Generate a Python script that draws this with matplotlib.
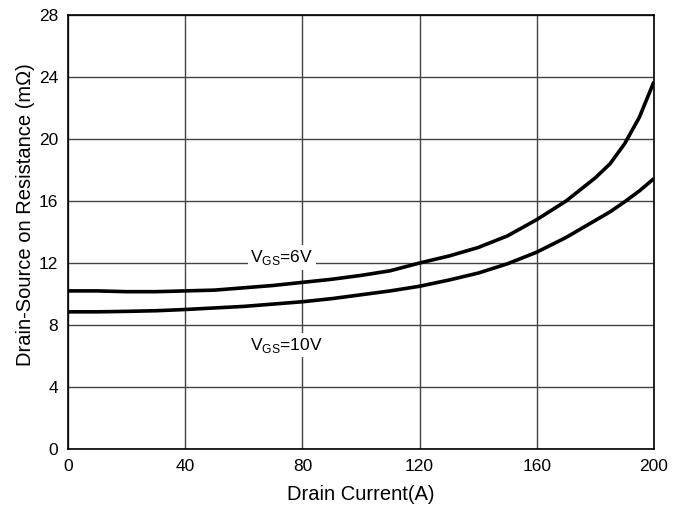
import numpy as np
import matplotlib.pyplot as plt

plt.rcParams['font.family'] = ['Liberation Sans', 'DejaVu Sans']

# drain current (A) and on-resistance (mOhm) read for each gate voltage
i_d = [0, 10, 20, 30, 40, 50, 60, 70, 80, 90, 100, 110, 120, 130, 140, 150,
       160, 170, 180, 185, 190, 195, 200]
r_6v = [10.2, 10.2, 10.15, 10.15, 10.2, 10.25, 10.4, 10.55, 10.75, 10.95, 11.2,
        11.5, 12.0, 12.45, 13.0, 13.75, 14.8, 16.0, 17.5, 18.4, 19.7, 21.4, 23.7]
r_10v = [8.85, 8.85, 8.88, 8.92, 9.0, 9.1, 9.2, 9.35, 9.5, 9.7, 9.95, 10.2,
         10.5, 10.9, 11.35, 11.95, 12.7, 13.65, 14.75, 15.3, 15.95, 16.65, 17.45]

xticks = [0, 40, 80, 120, 160, 200]
yticks = [0, 4, 8, 12, 16, 20, 24, 28]

fig = plt.figure(figsize=(6.86, 5.11), dpi=100)
ax = fig.add_axes([68 / 686, 1 - 449 / 511, 586 / 686, 434 / 511])

ax.plot(i_d, r_6v, color='black', lw=2.6, solid_capstyle='butt', zorder=3)
ax.plot(i_d, r_10v, color='black', lw=2.6, solid_capstyle='butt', zorder=3)

ax.set_xlim(0, 200)
ax.set_ylim(0, 28)
ax.set_xticks(xticks)
ax.set_yticks(yticks)
ax.grid(True, color='#444444', lw=1.0)
ax.tick_params(length=0, labelsize=12.5)
ax.tick_params(axis='x', pad=7)
ax.tick_params(axis='y', pad=7)
for s in ax.spines.values():
    s.set_linewidth(1.2)

ax.text(73, 12.35, r'V$_{\mathregular{GS}}$=6V', fontsize=12.5, ha='center', va='center',
        bbox=dict(facecolor='white', edgecolor='none', pad=2), zorder=4)
ax.text(74.5, 6.7, r'V$_{\mathregular{GS}}$=10V', fontsize=12.5, ha='center', va='center',
        bbox=dict(facecolor='white', edgecolor='none', pad=2), zorder=4)

ax.set_xlabel('Drain Current(A)', fontsize=14.5)
ax.set_ylabel('Drain-Source on Resistance (mΩ)', fontsize=14.5)
ax.xaxis.set_label_coords(0.5, -0.083)
ax.yaxis.set_label_coords(-0.056, 0.539)

fig.savefig('out.png', dpi=100)
